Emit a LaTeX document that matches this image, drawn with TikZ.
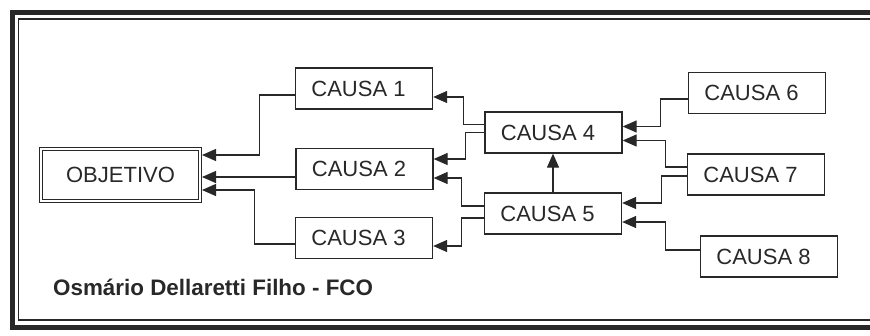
\documentclass[tikz,border=0pt]{standalone}
\usepackage{fontspec}
\setmainfont{Liberation Sans}
\usetikzlibrary{arrows.meta,positioning}
\definecolor{Ink}{RGB}{40,40,40}

\tikzset{
  causa/.style={draw=Ink, line width=1.3pt, minimum width=137pt, minimum height=41pt,
    inner sep=0pt, text=Ink, font=\fontsize{22}{25}\selectfont},
  link/.style={draw=Ink, line width=1.2pt, -{Triangle[length=14pt,width=12pt]}},
}

\begin{document}
\begin{tikzpicture}[x=1pt,y=1pt]
    \useasboundingbox (0,0) rectangle (870,-335);
    \clip (0,0) rectangle (870,-335);

    % Frame (runs off the right edge)
    \draw[Ink, line width=5pt] (12.5,-12.5) rectangle (900,-327.5);
    \draw[Ink, line width=1.5pt] (18.5,-19) rectangle (895,-320);

    % Objective box
    \node[causa, double, double distance=1.8pt, line width=1.1pt, minimum width=159pt,
      minimum height=52pt, outer sep=2pt] (obj) at (120.5,-175) {OBJETIVO};

    % Cause boxes (text sits a little left of centre)
    \foreach \n/\x/\y in {1/364/88.5, 2/364.5/169, 3/364/238, 4/553.5/132.5,
                          5/553/213.5, 6/757/93, 7/756/174.5, 8/769/256.5}
        \node[causa] (c\n) at (\x,-\y) {\hspace*{-11pt}CAUSA \n};

    % Elbow connectors: source/shift/run/target/shift
    \foreach \src/\sdy/\run/\dst/\ddy in {c1/-6.5/-35/obj/20, c3/-6/-40/obj/-15,
        c4/8/-21/c1/-8.5, c4/0/-19/c2/10, c5/7.5/-22/c2/-9, c5/-4.5/-22/c3/-8,
        c6/-6/-27/c4/6, c7/7.5/-21/c4/-8, c7/-1.5/-25/c5/10.5, c8/6.5/-34/c5/-8.5}
        \draw[link] ([yshift=\sdy]\src.west) -- ++(\run,0) |- ([yshift=\ddy]\dst.east);

    % Straight connectors
    \draw[link] ([yshift=-8]c2.west) -- ([yshift=-8]c2.west -| obj.east);
    \draw[link] (c5.north) -- (c5.north |- c4.south);

    % Author
    \node[anchor=base west, inner sep=0pt, text=Ink, font=\bfseries\fontsize{22.4}{26}\selectfont]
      (autor) at (53,-295) {Osmário Dellaretti Filho - FCO};
\end{tikzpicture}
\end{document}
